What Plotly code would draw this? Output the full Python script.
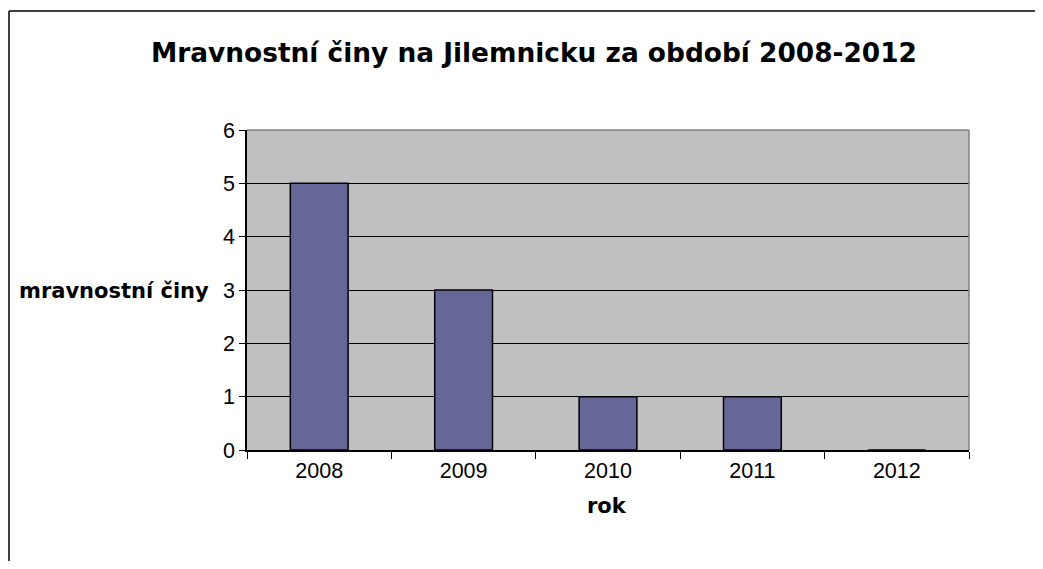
import plotly.graph_objects as go

years = ["2008", "2009", "2010", "2011", "2012"]
counts = [5, 3, 1, 1, 0]

title_text = "Mravnostní činy na Jilemnicku za období 2008-2012"
x_title = "rok"
y_title = "mravnostní činy"

# page body has an 8px margin; figure sized to fit the 1043x569 window
OFF = 8
W, H = 1043 - 2 * OFF, 569 - 2 * OFF
# plot area in screen pixels
L, R, T, B = 247, 969, 130, 450
pw, ph = R - L, B - T


def px(x):
    return (x - L) / pw


def py(y):
    return (B - y) / ph


tick_font = "Liberation Sans, Arial, sans-serif"
title_font = "DejaVu Sans, Arial, sans-serif"

fig = go.Figure(go.Bar(
    x=years, y=counts, width=0.4,
    marker=dict(color="#666699", line=dict(color="black", width=1.5)),
))

fig.update_layout(
    width=W, height=H,
    margin=dict(l=L - OFF, r=W - (R - OFF), t=T - OFF, b=H - (B - OFF), pad=0),
    paper_bgcolor="white", plot_bgcolor="#C0C0C0",
    font=dict(family=tick_font, size=21.5, color="black"),
    showlegend=False,
)

fig.update_xaxes(
    type="category", showgrid=False, showline=True, linecolor="black", linewidth=1.5,
    ticks="outside", tickson="boundaries", ticklen=7, tickcolor="black", tickwidth=1,
    tickfont=dict(size=21.5), zeroline=False, fixedrange=True,
)
fig.update_yaxes(
    range=[0, 6], dtick=1, showgrid=True, gridcolor="black", gridwidth=1,
    showline=True, linecolor="black", linewidth=1.5,
    ticks="outside", ticklen=6, tickcolor="black", tickwidth=1, tickfont=dict(size=21.5),
    zeroline=False, fixedrange=True,
)

# plot border top/right in gray
fig.add_shape(type="line", xref="paper", yref="paper", x0=0, x1=1, y0=1, y1=1,
              line=dict(color="#808080", width=1.5))
fig.add_shape(type="line", xref="paper", yref="paper", x0=1, x1=1, y0=0, y1=1,
              line=dict(color="#808080", width=1.5))
# outer chart border (only left and top edges are visible in the window)
fig.add_shape(type="line", xref="paper", yref="paper",
              x0=px(9), x1=px(9), y0=py(11), y1=py(569),
              line=dict(color="black", width=1.5))
fig.add_shape(type="line", xref="paper", yref="paper",
              x0=px(9), x1=px(1043), y0=py(11), y1=py(11),
              line=dict(color="black", width=1.5))

fig.add_annotation(text="<b>" + title_text + "</b>", xref="paper", yref="paper",
                   x=px(534), y=py(52), showarrow=False, font=dict(size=26.4, family=title_font),
                   xanchor="center", yanchor="middle")
fig.add_annotation(text="<b>" + x_title + "</b>", xref="paper", yref="paper",
                   x=px(607), y=py(506), showarrow=False, font=dict(size=21, family=title_font),
                   xanchor="center", yanchor="middle")
fig.add_annotation(text="<b>" + y_title + "</b>", xref="paper", yref="paper",
                   x=px(211), y=py(291), showarrow=False, font=dict(size=21, family=title_font),
                   xanchor="right", yanchor="middle")

fig.write_html("out.html")
